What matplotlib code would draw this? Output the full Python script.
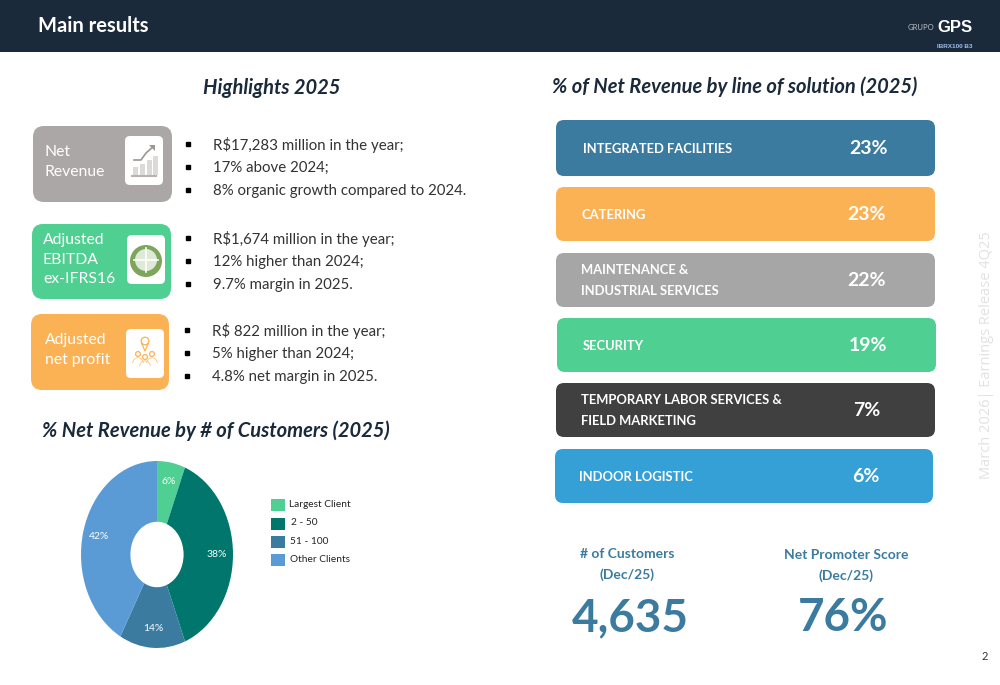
import matplotlib
matplotlib.use('Agg')
import matplotlib.pyplot as plt
from matplotlib.patches import FancyBboxPatch, Rectangle, Circle, Wedge, Polygon

# data
highlight_names = ['Net\nRevenue', 'Adjusted\nEBITDA\nex-IFRS16', 'Adjusted\nnet profit']
highlight_notes = [
    ['R$17,283 million in the year;', '17% above 2024;', '8% organic growth compared to 2024.'],
    ['R$1,674 million in the year;', '12% higher than 2024;', '9.7% margin in 2025.'],
    ['R$ 822 million in the year;', '5% higher than 2024;', '4.8% net margin in 2025.'],
]
solution_names = ['INTEGRATED FACILITIES', 'CATERING', 'MAINTENANCE &\nINDUSTRIAL SERVICES', 'SECURITY',
                  'TEMPORARY LABOR SERVICES &\nFIELD MARKETING', 'INDOOR LOGISTIC']
solution_share = [23, 23, 22, 19, 7, 6]
customer_groups = ['Largest Client', ' 2 - 50', '51 - 100', 'Other Clients']
customer_share = [6, 38, 14, 42]

NAVY = '#1b2a3a'
BLUE = '#3b7ba0'
GREEN = '#50cf92'
ORANGE = '#fbb254'
FONT = 'Lato'

fig = plt.figure(figsize=(10, 6.85), dpi=100, facecolor='white')
ax = fig.add_axes([0, 0, 1, 1])
ax.set_xlim(0, 1000)
ax.set_ylim(685, 0)
ax.axis('off')


def card(x0, y0, x1, y1, color, rad=9, z=1):
    ax.add_patch(FancyBboxPatch((x0 + rad, y0 + rad), x1 - x0 - 2 * rad, y1 - y0 - 2 * rad,
                                boxstyle='round,pad=%d,rounding_size=%d' % (rad, rad),
                                fc=color, ec='none', zorder=z))


# header
ax.add_patch(Rectangle((0, 0), 1000, 52, fc=NAVY, ec='none'))
ax.text(38, 26, 'Main results', color='white', fontsize=14.5, fontweight='bold', family=FONT, va='center')
ax.text(921, 27.5, 'GRUPO', color='#b8bec4', fontsize=5.5, family=FONT, ha='center', va='center')
ax.text(954.5, 27, 'GPS', color='white', fontsize=12, fontweight='bold', family='Liberation Sans', ha='center', va='center')
ax.text(955, 46, 'IBRX100 B3', color='#9fc0e8', fontsize=4.6, fontweight='bold', family='Liberation Sans', ha='center', va='center')

# headings
head = dict(color=NAVY, fontweight='bold', style='italic', family=FONT, ha='center', va='center')
ax.text(272, 88, 'Highlights 2025', fontsize=14.5, **head)
ax.text(735, 87, '% of Net Revenue by line of solution (2025)', fontsize=14.5, **head)
ax.text(216, 431, '% Net Revenue by # of Customers (2025)', fontsize=14.5, **head)

# highlight cards
card_boxes = [(33, 126, 172, 202), (32, 224, 171, 299), (31, 314, 169, 390)]
card_colors = ['#aba7a6', GREEN, ORANGE]
icon_boxes = [(125, 136, 163, 185), (127, 235, 165, 284), (126, 329, 164, 378)]
name_x = [45, 43, 45]
note_x = [213, 213, 212]
bullet_x = [188, 188, 187]
note_y = [145, 239, 331]
for i in range(3):
    x0, y0, x1, y1 = card_boxes[i]
    card(x0, y0, x1, y1, card_colors[i], rad=11)
    ix0, iy0, ix1, iy1 = icon_boxes[i]
    card(ix0, iy0, ix1, iy1, 'white', rad=5, z=2)
    ax.text(name_x[i], (y0 + y1) / 2 - 2, highlight_names[i], color='white', fontsize=11.3, family=FONT,
            va='center', linespacing=1.46)
    for j, note in enumerate(highlight_notes[i]):
        yy = note_y[i] + j * 23
        ax.plot(bullet_x[i], yy - 1, 's', color='black', ms=3.5)
        ax.text(note_x[i], yy, note, color='#333333', fontsize=10.8, family=FONT, va='center')

# icon 1: rising bars and arrow
for bx, bh in zip([133, 140, 147, 153], [8, 11, 15, 19]):
    ax.add_patch(Rectangle((bx, 175 - bh), 4.5, bh, fc='#dcdad8', ec='none', zorder=3))
ax.plot([132, 156], [176, 176], color='#b5b2b0', lw=1.5, zorder=3)
ax.plot([134, 141, 146, 154], [160, 160, 153, 146], color='#9a9795', lw=1.2, zorder=3)
ax.add_patch(Polygon([[155, 145], [149, 145], [155, 151]], fc='#9a9795', ec='none', zorder=3))
# icon 2: target
ax.add_patch(Circle((146, 261), 16, fc='#7da55c', ec='none', zorder=3))
ax.add_patch(Circle((146, 260), 11, fc='#dfe9d8', ec='none', zorder=4))
ax.plot([134, 158], [260, 260], color='white', lw=1.2, zorder=5)
ax.plot([146, 146], [248, 272], color='white', lw=1.2, zorder=5)
# icon 3: pin and people
ax.add_patch(Circle((145, 341), 3.8, fc='none', ec=ORANGE, lw=0.9, zorder=3))
ax.plot([141.5, 145, 148.5], [343, 351, 343], color=ORANGE, lw=0.9, zorder=3)
for px, py in zip([138, 145, 152], [354, 357, 354]):
    ax.add_patch(Circle((px, py), 2.4, fc='none', ec=ORANGE, lw=0.9, zorder=3))
    ax.add_patch(Wedge((px, py + 9), 5.5, 180, 360, width=0.6, fc=ORANGE, ec='none', zorder=3))

# solution cards
solution_boxes = [(556, 120, 935, 176), (556, 187, 935, 241), (556, 253, 935, 307),
                  (557, 318, 936, 372), (556, 383, 935, 437), (555, 449, 933, 503)]
solution_colors = [BLUE, ORANGE, '#a6a6a6', GREEN, '#404040', '#35a0d6']
solution_text_x = [583, 581, 581, 583, 581, 579]
solution_value_x = [868, 867, 867, 868, 867, 866]
for i in range(6):
    x0, y0, x1, y1 = solution_boxes[i]
    card(x0, y0, x1, y1, solution_colors[i], rad=8)
    ax.text(solution_text_x[i], (y0 + y1) / 2 + 0.5, solution_names[i], color='white', fontsize=9.4, fontweight='bold',
            family=FONT, va='center', linespacing=1.85)
    ax.text(solution_value_x[i], (y0 + y1) / 2 + 0.5, '%d%%' % solution_share[i], color='white', fontsize=14,
            fontweight='bold', family=FONT, ha='center', va='center')

# donut, stretched as on the slide
pie_colors = [GREEN, '#00766c', BLUE, '#5b9bd5']
pie_ax = fig.add_axes([81 / 1000, 1 - 648 / 685, 152 / 1000, 187 / 685])
wedges, texts, pcts = pie_ax.pie(customer_share, colors=pie_colors, startangle=90, counterclock=False, radius=1,
                                 wedgeprops=dict(width=0.65), autopct='%d%%', pctdistance=0.79)
for t in pcts:
    t.set(color='white', fontsize=7.5, family=FONT)
pie_ax.set_xlim(-1, 1)
pie_ax.set_ylim(-1, 1)
pie_ax.set_aspect('auto')

# legend
legend_y = [505, 523.5, 542, 560]
legend_x = [289, 291, 290, 290]
for i in range(4):
    ax.add_patch(Rectangle((271, legend_y[i] - 6), 14, 12, fc=pie_colors[i], ec='none'))
    ax.text(legend_x[i], legend_y[i] - 1, customer_groups[i].strip(), color='#222222', fontsize=7.3, family=FONT, va='center')

# bottom figures
stat = dict(color=BLUE, fontweight='bold', family=FONT, ha='center', va='center')
ax.text(627, 554, '# of Customers', fontsize=10, **stat)
ax.text(627, 575, '(Dec/25)', fontsize=10, **stat)
ax.text(630, 618, '4,635', fontsize=33, **stat)
ax.text(846, 555, 'Net Promoter Score', fontsize=10, **stat)
ax.text(846, 576, '(Dec/25)', fontsize=10, **stat)
ax.text(843, 618, '76%', fontsize=33, **stat)

# side note and page number
ax.text(986, 355, 'March 2026| Earnings Release 4Q25', color='#e2e2e2', fontsize=10.5, family='Open Sans',
        rotation=90, ha='center', va='center')
ax.text(985, 657, '2', color='#333333', fontsize=8, family=FONT, ha='center', va='center')

fig.savefig('out.png', dpi=100)
